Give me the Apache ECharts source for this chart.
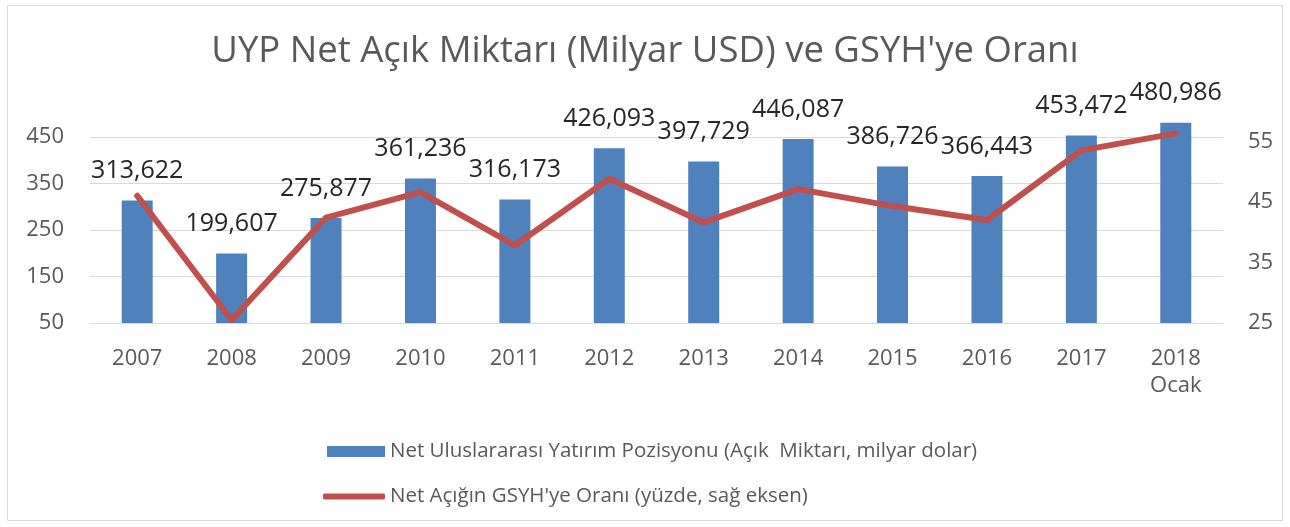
<!DOCTYPE html>
<html>
<head>
<meta charset="utf-8">
<script src="https://cdn.jsdelivr.net/npm/echarts@6/dist/echarts.min.js"></script>
<style>
  html, body { margin: 0; padding: 0; background: #fff; }
  #main { width: 1290px; height: 527px; }
</style>
</head>
<body>
<div id="main"></div>
<script>
// veriler
var years = ['2007', '2008', '2009', '2010', '2011', '2012', '2013', '2014', '2015', '2016', '2017', '2018\nOcak'];
var netAcik = [313.622, 199.607, 275.877, 361.236, 316.173, 426.093, 397.729, 446.087, 386.726, 366.443, 453.472, 480.986];
var gsyhOrani = [46.0, 25.5, 42.4, 46.6, 37.8, 48.8, 41.6, 47.1, 44.3, 42.0, 53.5, 56.3];
var seriesNames = ['Net Uluslararası Yatırım Pozisyonu (Açık  Miktarı, milyar dolar)', "Net Açığın GSYH'ye Oranı (yüzde, sağ eksen)"];

var font = 'Open Sans';
var gray = '#595959';

var myChart = echarts.init(document.getElementById('main'));

var legendText = {
    fontFamily: font,
    fontSize: 20.5,
    color: gray
};

option = {
    backgroundColor: '#fff',
    animation: false,
    title: {
        text: "UYP Net Açık Miktarı (Milyar USD) ve GSYH'ye Oranı",
        left: 'center',
        top: 28,
        textStyle: {
            fontFamily: font,
            fontSize: 36.5,
            fontWeight: 'normal',
            color: gray
        }
    },
    graphic: [{
        type: 'rect',
        shape: { x: 7.5, y: 5.5, width: 1275, height: 515 },
        style: { fill: 'none', stroke: '#d9d9d9', lineWidth: 1 },
        silent: true
    }],
    // iki ayrı lejant: çubuk ve çizgi simgeleri farklı kalınlıkta
    legend: [{
        left: 322,
        top: 436,
        itemWidth: 58,
        itemHeight: 11,
        itemGap: 4,
        icon: 'rect',
        textStyle: legendText,
        data: [seriesNames[0]]
    }, {
        left: 318,
        top: 481,
        itemWidth: 62,
        itemHeight: 6,
        icon: 'roundRect',
        textStyle: legendText,
        data: [seriesNames[1]]
    }],
    grid: {
        left: 90,
        right: 67,
        top: 114,
        bottom: 204
    },
    xAxis: {
        type: 'category',
        data: years,
        axisLine: { lineStyle: { color: '#d9d9d9', width: 1 } },
        axisTick: { show: false },
        axisLabel: {
            fontFamily: font,
            fontSize: 22,
            color: gray,
            margin: 22,
            lineHeight: 27
        }
    },
    yAxis: [{
        type: 'value',
        min: 50,
        max: 500,
        interval: 100,
        axisLine: { show: false },
        axisTick: { show: false },
        splitLine: { showMaxLine: false, lineStyle: { color: '#d9d9d9', width: 1 } },
        axisLabel: {
            fontFamily: font,
            fontSize: 22,
            color: gray,
            margin: 26,
            showMaxLabel: false
        }
    }, {
        type: 'value',
        min: 25,
        max: 59.5,
        interval: 10,
        axisLine: { show: false },
        axisTick: { show: false },
        splitLine: { show: false },
        axisLabel: {
            fontFamily: font,
            fontSize: 22,
            color: gray,
            margin: 25,
            showMaxLabel: false
        }
    }],
    series: [{
        name: seriesNames[0],
        type: 'bar',
        data: netAcik,
        barWidth: 31,
        itemStyle: { color: '#4F81BD' },
        label: {
            show: true,
            position: 'top',
            distance: 17,
            fontFamily: font,
            fontSize: 25,
            color: '#262626',
            formatter: function (p) {
                return p.value.toFixed(3).replace('.', ',');
            }
        }
    }, {
        name: seriesNames[1],
        type: 'line',
        yAxisIndex: 1,
        data: gsyhOrani,
        symbol: 'none',
        z: 3,
        lineStyle: { color: '#C0504D', width: 6, cap: 'round', join: 'round' },
        itemStyle: { color: '#C0504D' }
    }]
};
myChart.setOption(option);
</script>
</body>
</html>
